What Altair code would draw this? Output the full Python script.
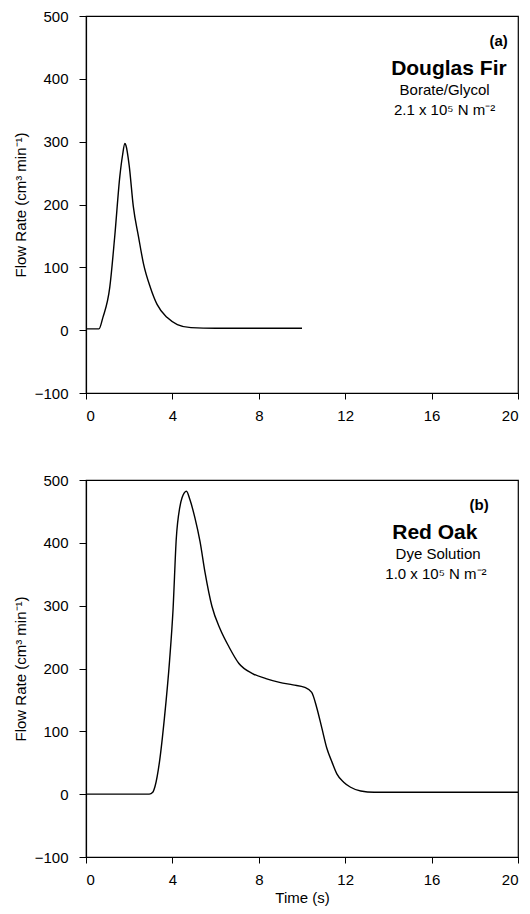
import altair as alt
import pandas as pd

# Panel (a): Douglas Fir, Borate/Glycol
a_time = [0.0, 0.6, 0.78, 1.1, 1.33, 1.57, 1.69, 1.8, 1.85, 2.0, 2.19, 2.43, 2.66, 2.98, 3.29, 3.76, 4.23, 4.86, 6.0, 8.0, 10.0]
a_flow = [2, 2, 20, 68, 149, 246, 278, 297, 294, 262, 197, 149, 106, 68, 41, 20, 9, 4, 3, 3, 3]

# Panel (b): Red Oak, Dye Solution
b_time = [0.0, 2.93, 3.09, 3.2, 3.4, 3.63, 3.87, 4.03, 4.18, 4.34, 4.45, 4.65, 4.81, 5.04, 5.28, 5.51, 5.83,
          6.22, 6.61, 7.08, 7.71, 8.33, 8.96, 9.58, 10.13, 10.45, 10.68, 10.92, 11.15, 11.39, 11.62, 11.93,
          12.25, 12.72, 13.34, 16.0, 20.0]
b_flow = [0, 0, 3, 13, 51, 121, 213, 294, 407, 456, 472, 482, 469, 440, 402, 353, 299,
          262, 235, 208, 192, 184, 178, 174, 170, 162, 138, 105, 73, 51, 32, 19,
          11, 5, 3, 3, 3]

x_ticks = [0, 4, 8, 12, 16, 20]
y_ticks = [-100, 0, 100, 200, 300, 400, 500]

# annotations: (text, x, y, size, weight)
a_notes = [("(a)", 19.1, 461, 15, "bold"), ("Douglas Fir", 16.8, 416, 21, "bold"),
           ("Borate/Glycol", 16.6, 383, 15, "normal"), ("2.1 x 10\u2075 N m\u207b\u00b2", 16.6, 351, 15, "normal")]
b_notes = [("(b)", 18.2, 460, 15, "bold"), ("Red Oak", 16.15, 416, 21, "bold"),
           ("Dye Solution", 16.3, 383, 15, "normal"), ("1.0 x 10\u2075 N m\u207b\u00b2", 16.2, 351, 15, "normal")]

FONT = "Liberation Sans"
W, H = 432, 377


def panel(times, flows, notes, show_title):
    df = pd.DataFrame({"t": times, "f": flows})
    xaxis = alt.Axis(values=x_ticks, title="Time (s)" if show_title else None, tickSize=6,
                     labelPadding=9, titlePadding=3)
    x = alt.X("t:Q", scale=alt.Scale(domain=[0, 20], nice=False, zero=False), axis=xaxis)
    y = alt.Y("f:Q", scale=alt.Scale(domain=[-100, 500], nice=False, zero=False),
              axis=alt.Axis(values=y_ticks, title="Flow Rate (cm\u00b3  min\u207b\u00b9)", tickSize=7,
                            labelPadding=11, titlePadding=6))
    line = alt.Chart(df).mark_line(color="black", strokeWidth=1.4, interpolate="monotone").encode(x=x, y=y)
    layers = [line]
    for txt, tx, ty, size, weight in notes:
        ndf = pd.DataFrame({"t": [tx], "f": [ty], "label": [txt]})
        layers.append(
            alt.Chart(ndf).mark_text(fontSize=size, fontWeight=weight, font=FONT, color="black",
                                     align="center", baseline="middle")
            .encode(x=alt.X("t:Q"), y=alt.Y("f:Q"), text="label:N")
        )
    return alt.layer(*layers).properties(width=W, height=H)


top = panel(a_time, a_flow, a_notes, False)
bottom = panel(b_time, b_flow, b_notes, True)

chart = alt.vconcat(top, bottom, spacing=48).properties(
    padding={"left": 4, "top": 0, "right": 0, "bottom": 0}
).configure_view(stroke="black", strokeWidth=1.2).configure_axis(
    domainColor="black", tickColor="black", labelColor="black", titleColor="black",
    labelFont=FONT, titleFont=FONT, labelFontSize=15, titleFontSize=15, titleFontWeight="normal",
    grid=False, domainWidth=1.2, tickWidth=1
)

chart.save("out.html", embed_options={"renderer": "svg", "actions": False})
